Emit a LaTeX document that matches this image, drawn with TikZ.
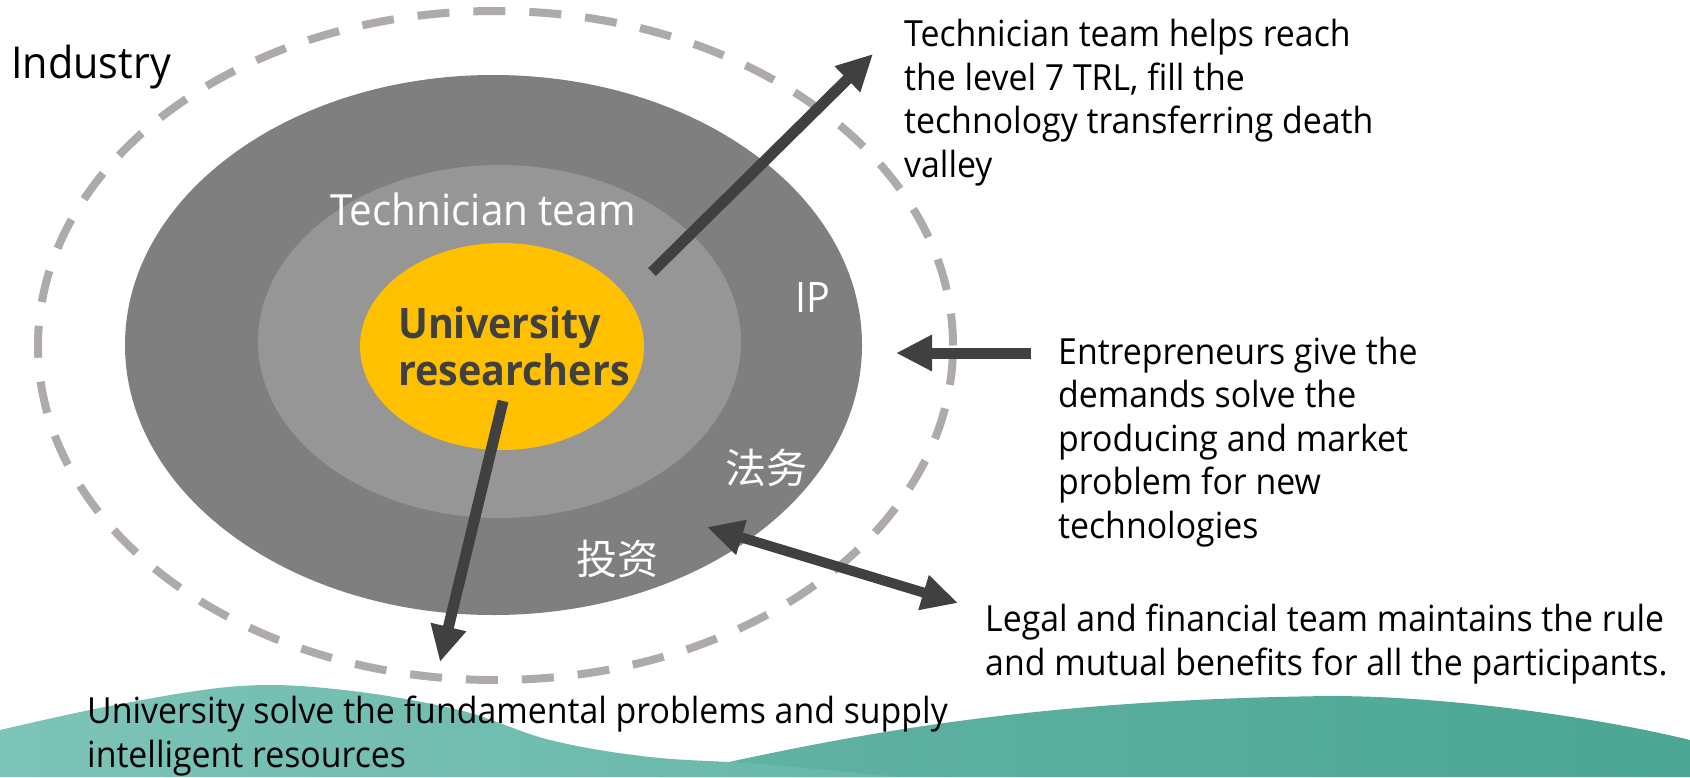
\documentclass[tikz,border=0pt]{standalone}
\usepackage{fontspec}
\setmainfont{Open Sans}[FakeStretch=0.94]
\newfontfamily\cjk{Noto Sans CJK SC}
\usetikzlibrary{arrows.meta,shapes.geometric}
\definecolor{ringdark}{HTML}{7F7F7F}
\definecolor{ringlight}{HTML}{969696}
\definecolor{corec}{HTML}{FFC000}
\definecolor{arrowc}{HTML}{404040}
\definecolor{dashc}{HTML}{AEAAAA}
\definecolor{tealA}{HTML}{7CC4B7}
\definecolor{tealB}{HTML}{68B7A9}
\definecolor{tealC}{HTML}{62B3A4}
\definecolor{tealD}{HTML}{4BA693}
\begin{document}
\begin{tikzpicture}[x=1pt,y=-1pt,
  ring/.style={ellipse, inner sep=0pt, outer sep=0pt, draw=none},
  arr/.style={draw=arrowc, line width=11pt, -{Triangle[length=36pt,width=34pt]}},
  darr/.style={draw=arrowc, line width=10pt, {Triangle[length=36pt,width=34pt]}-{Triangle[length=36pt,width=34pt]}},
  lbl/.style={inner sep=0pt, anchor=base west, align=left, font=\fontsize{36}{43.5}\selectfont},
  wlbl/.style={inner sep=0pt, anchor=base west, text=white}]
\useasboundingbox (0,0) rectangle (1690,777);
\fill[white] (0,0) rectangle (1690,777);
% bottom waves
\shade[left color=tealC, right color=tealD] (660,777) .. controls (820,742) and (1000,700) .. (1330,696) .. controls (1450,696) and (1600,718) .. (1690,740) -- (1690,777) -- cycle;
\shade[left color=tealA, right color=tealB] plot[smooth, tension=0.6] coordinates {(0,730) (115,705) (240,686) (344,690) (459,710) (550,740) (650,757) (760,764) (900,777)} -- (0,777) -- cycle;
% rings
\node[ellipse, draw=dashc, line width=8pt, dash pattern=on 32pt off 24pt, minimum width=915pt, minimum height=669pt, inner sep=0pt, outer sep=0pt] (industry) at (495.5,345.5) {};
\node[ring, fill=ringdark, minimum width=737pt, minimum height=540pt] (legal) at (493.5,345) {};
\node[ring, fill=ringlight, minimum width=483pt, minimum height=353pt] (tech) at (499.5,341.5) {};
\node[ring, fill=corec, minimum width=284pt, minimum height=207pt] (core) at (502,346.5) {};
% labels in rings
\node[lbl, font=\fontsize{44}{48}\selectfont] (industrylbl) at (11,78) {Industry};
\node[wlbl, font=\fontsize{43}{48}\selectfont] (techlbl) at (330,225) {Technician team};
\node[wlbl, font=\fontsize{42}{48}\selectfont] (iplbl) at (795,312) {IP};
\node[lbl, text=arrowc, font=\bfseries\fontsize{42}{47}\selectfont] (corelbl) at (398,385) {University\\researchers};
\node[wlbl, font=\cjk\fontsize{41}{48}\selectfont] (fawu) at (725,483) {法务};
\node[wlbl, font=\cjk\fontsize{41}{48}\selectfont] (touzi) at (576,574) {投资};
% descriptions (anchor = baseline of last line)
\node[lbl] (techtxt) at (904,177) {Technician team helps reach\\the level 7 TRL, fill the\\technology transferring death\\valley};
\node[lbl] (enttxt) at (1058,538) {Entrepreneurs give the\\demands solve the\\producing and market\\problem for new\\technologies};
\node[lbl] (legaltxt) at (985,675) {Legal and financial team maintains the rule\\and mutual benefits for all the participants.};
\node[lbl] (unitxt) at (87,767) {University solve the fundamental problems and supply\\intelligent resources};
% arrows
\coordinate (a1s) at (652,272); \coordinate (a1e) at (873,54);
\coordinate (a2s) at (503,401); \coordinate (a2e) at (440,662);
\coordinate (a3s) at (1031,353); \coordinate (a3e) at (896,353);
\coordinate (a4s) at (707,527); \coordinate (a4e) at (958,603);
\draw[arr] (a1s) -- (a1e);
\draw[arr] (a2s) -- (a2e);
\draw[arr] (a3s) -- (a3e);
\draw[darr] (a4s) -- (a4e);
\end{tikzpicture}
\end{document}
